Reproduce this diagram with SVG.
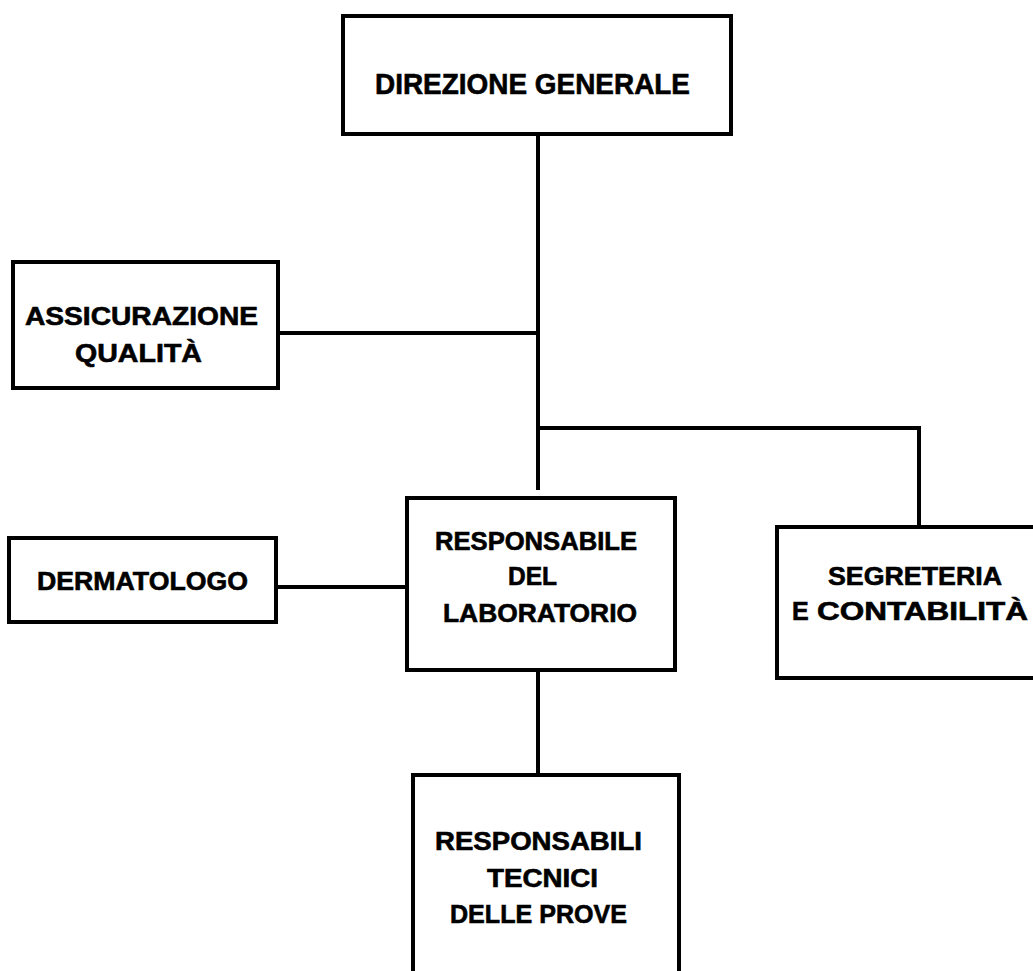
<svg xmlns="http://www.w3.org/2000/svg" width="1033" height="971" viewBox="0 0 1033 971">
<style>
.box{fill:#fff;stroke:#000;stroke-width:4}
.ln{fill:none;stroke:#000;stroke-width:4}
.t{font-family:"Liberation Sans","DejaVu Sans",sans-serif;font-weight:bold;font-size:25px;fill:#000;stroke:#000;stroke-width:0.6}
.tb{font-size:29px}
</style>
<rect width="1033" height="971" fill="#fff"/>
<g id="connectors">
<path class="ln" d="M538,134 V490"/>
<path class="ln" d="M278,333 H538"/>
<path class="ln" d="M538,428 H919 V527"/>
<path class="ln" d="M276,587 H407"/>
<path class="ln" d="M538,670 V775"/>
</g>
<g id="direzione">
<rect class="box" x="343" y="16" width="388" height="118"/>
<text class="t tb" x="375" y="94" textLength="315" lengthAdjust="spacingAndGlyphs">DIREZIONE GENERALE</text>
</g>
<g id="assicurazione">
<rect class="box" x="13" y="262" width="265" height="126"/>
<text class="t" x="25" y="325" textLength="233" lengthAdjust="spacingAndGlyphs">ASSICURAZIONE</text>
<text class="t" x="75" y="362" textLength="127" lengthAdjust="spacingAndGlyphs">QUALITÀ</text>
</g>
<g id="dermatologo">
<rect class="box" x="9" y="538" width="267" height="84"/>
<text class="t" x="37" y="590" textLength="211" lengthAdjust="spacingAndGlyphs">DERMATOLOGO</text>
</g>
<g id="responsabile">
<rect class="box" x="407" y="498" width="268" height="172"/>
<text class="t" x="435" y="550" textLength="202" lengthAdjust="spacingAndGlyphs">RESPONSABILE</text>
<text class="t" x="508" y="585" textLength="49" lengthAdjust="spacingAndGlyphs">DEL</text>
<text class="t" x="443" y="622" textLength="194" lengthAdjust="spacingAndGlyphs">LABORATORIO</text>
</g>
<g id="segreteria">
<rect class="box" x="777" y="527" width="280" height="151"/>
<text class="t" x="828" y="585" textLength="174" lengthAdjust="spacingAndGlyphs">SEGRETERIA</text>
<text class="t" y="620"><tspan x="792">E</tspan><tspan x="817" textLength="211" lengthAdjust="spacingAndGlyphs">CONTABILITÀ</tspan></text>
</g>
<g id="responsabili-tecnici">
<rect class="box" x="413" y="775" width="266" height="220"/>
<text class="t" x="435" y="850" textLength="207" lengthAdjust="spacingAndGlyphs">RESPONSABILI</text>
<text class="t" x="487" y="887" textLength="111" lengthAdjust="spacingAndGlyphs">TECNICI</text>
<text class="t" x="450" y="923" textLength="177" lengthAdjust="spacingAndGlyphs">DELLE PROVE</text>
</g>
</svg>
